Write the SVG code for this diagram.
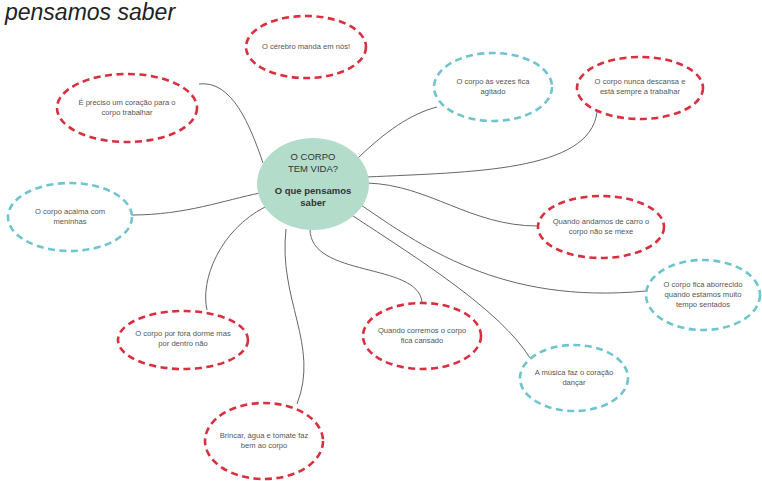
<svg xmlns="http://www.w3.org/2000/svg" width="762" height="481" viewBox="0 0 762 481">
<style>
.red{fill:#fff;stroke:#d92f3f;stroke-width:2.6;stroke-dasharray:7 4.5}
.cyan{fill:#fff;stroke:#6ec5cf;stroke-width:2.6;stroke-dasharray:7 4.5}
.t{font-family:"Liberation Sans",Arial,sans-serif;font-size:7.6px;fill:#555;text-anchor:middle}
.c{font-family:"Liberation Sans",Arial,sans-serif;font-size:9.5px;fill:#333;text-anchor:middle}
.conn path{fill:none;stroke:#666;stroke-width:1}
</style>
<rect width="762" height="481" fill="#fff"/>
<text x="5" y="19.5" font-family="Liberation Sans,Arial,sans-serif" font-style="italic" font-size="23" fill="#222">pensamos saber</text>
<g class="conn">
<path d="M263,163 C250,125 232,80 199,84"/>
<path d="M358,158 C385,132 410,114 437,107"/>
<path d="M367,177 C470,172 590,172 597,112"/>
<path d="M132,215 C185,215 225,200 260,193"/>
<path d="M367,183 C430,185 470,226 538,226"/>
<path d="M358,203 C420,245 500,305 646,291"/>
<path d="M350,214 C420,260 500,310 530,358"/>
<path d="M310,229 C310,278 418,262 422,302"/>
<path d="M265,207 C220,230 200,280 207,310"/>
<path d="M286,229 C278,300 320,345 297,404"/>
</g>
<g id="center">
<ellipse cx="313" cy="184" rx="56" ry="46" fill="#b4dccb"/>
<text class="c" x="313" y="160">O CORPO</text>
<text class="c" x="313" y="172">TEM VIDA?</text>
<text class="c" x="313" y="194" font-weight="bold">O que pensamos</text>
<text class="c" x="313" y="206" font-weight="bold">saber</text>
</g>
<g id="n1"><ellipse class="red" cx="306" cy="47" rx="60" ry="31"/><text class="t" x="306" y="49">O cérebro manda em nós!</text></g>
<g id="n2"><ellipse class="red" cx="127" cy="108" rx="70" ry="34"/><text class="t" x="127" y="105">É preciso um coração para o</text><text class="t" x="127" y="115">corpo trabalhar</text></g>
<g id="n3"><ellipse class="cyan" cx="493" cy="87" rx="59" ry="34"/><text class="t" x="493" y="84">O corpo às vezes fica</text><text class="t" x="493" y="94">agitado</text></g>
<g id="n4"><ellipse class="red" cx="640" cy="88" rx="63" ry="31"/><text class="t" x="640" y="84">O corpo nunca descansa e</text><text class="t" x="640" y="94">está sempre a trabalhar</text></g>
<g id="n5"><ellipse class="cyan" cx="70" cy="217" rx="62" ry="34"/><text class="t" x="70" y="214">O corpo acalma com</text><text class="t" x="70" y="224">meninhas</text></g>
<g id="n6"><ellipse class="red" cx="601" cy="227" rx="63" ry="31"/><text class="t" x="601" y="224">Quando andamos de carro o</text><text class="t" x="601" y="234">corpo não se mexe</text></g>
<g id="n7"><ellipse class="cyan" cx="703" cy="295" rx="57" ry="35"/><text class="t" x="703" y="287">O corpo fica aborrecido</text><text class="t" x="703" y="297">quando estamos muito</text><text class="t" x="703" y="307">tempo sentados</text></g>
<g id="n8"><ellipse class="red" cx="183" cy="340" rx="65" ry="29"/><text class="t" x="183" y="336">O corpo por fora dorme mas</text><text class="t" x="183" y="346">por dentro não</text></g>
<g id="n9"><ellipse class="red" cx="422" cy="336" rx="59" ry="33"/><text class="t" x="422" y="333">Quando corremos o corpo</text><text class="t" x="422" y="343">fica cansado</text></g>
<g id="n10"><ellipse class="cyan" cx="574" cy="378" rx="54" ry="33"/><text class="t" x="574" y="375">A música faz o coração</text><text class="t" x="574" y="385">dançar</text></g>
<g id="n11"><ellipse class="red" cx="264" cy="441" rx="59" ry="38"/><text class="t" x="264" y="438">Brincar, água e tomate faz</text><text class="t" x="264" y="448">bem ao corpo</text></g>
</svg>
